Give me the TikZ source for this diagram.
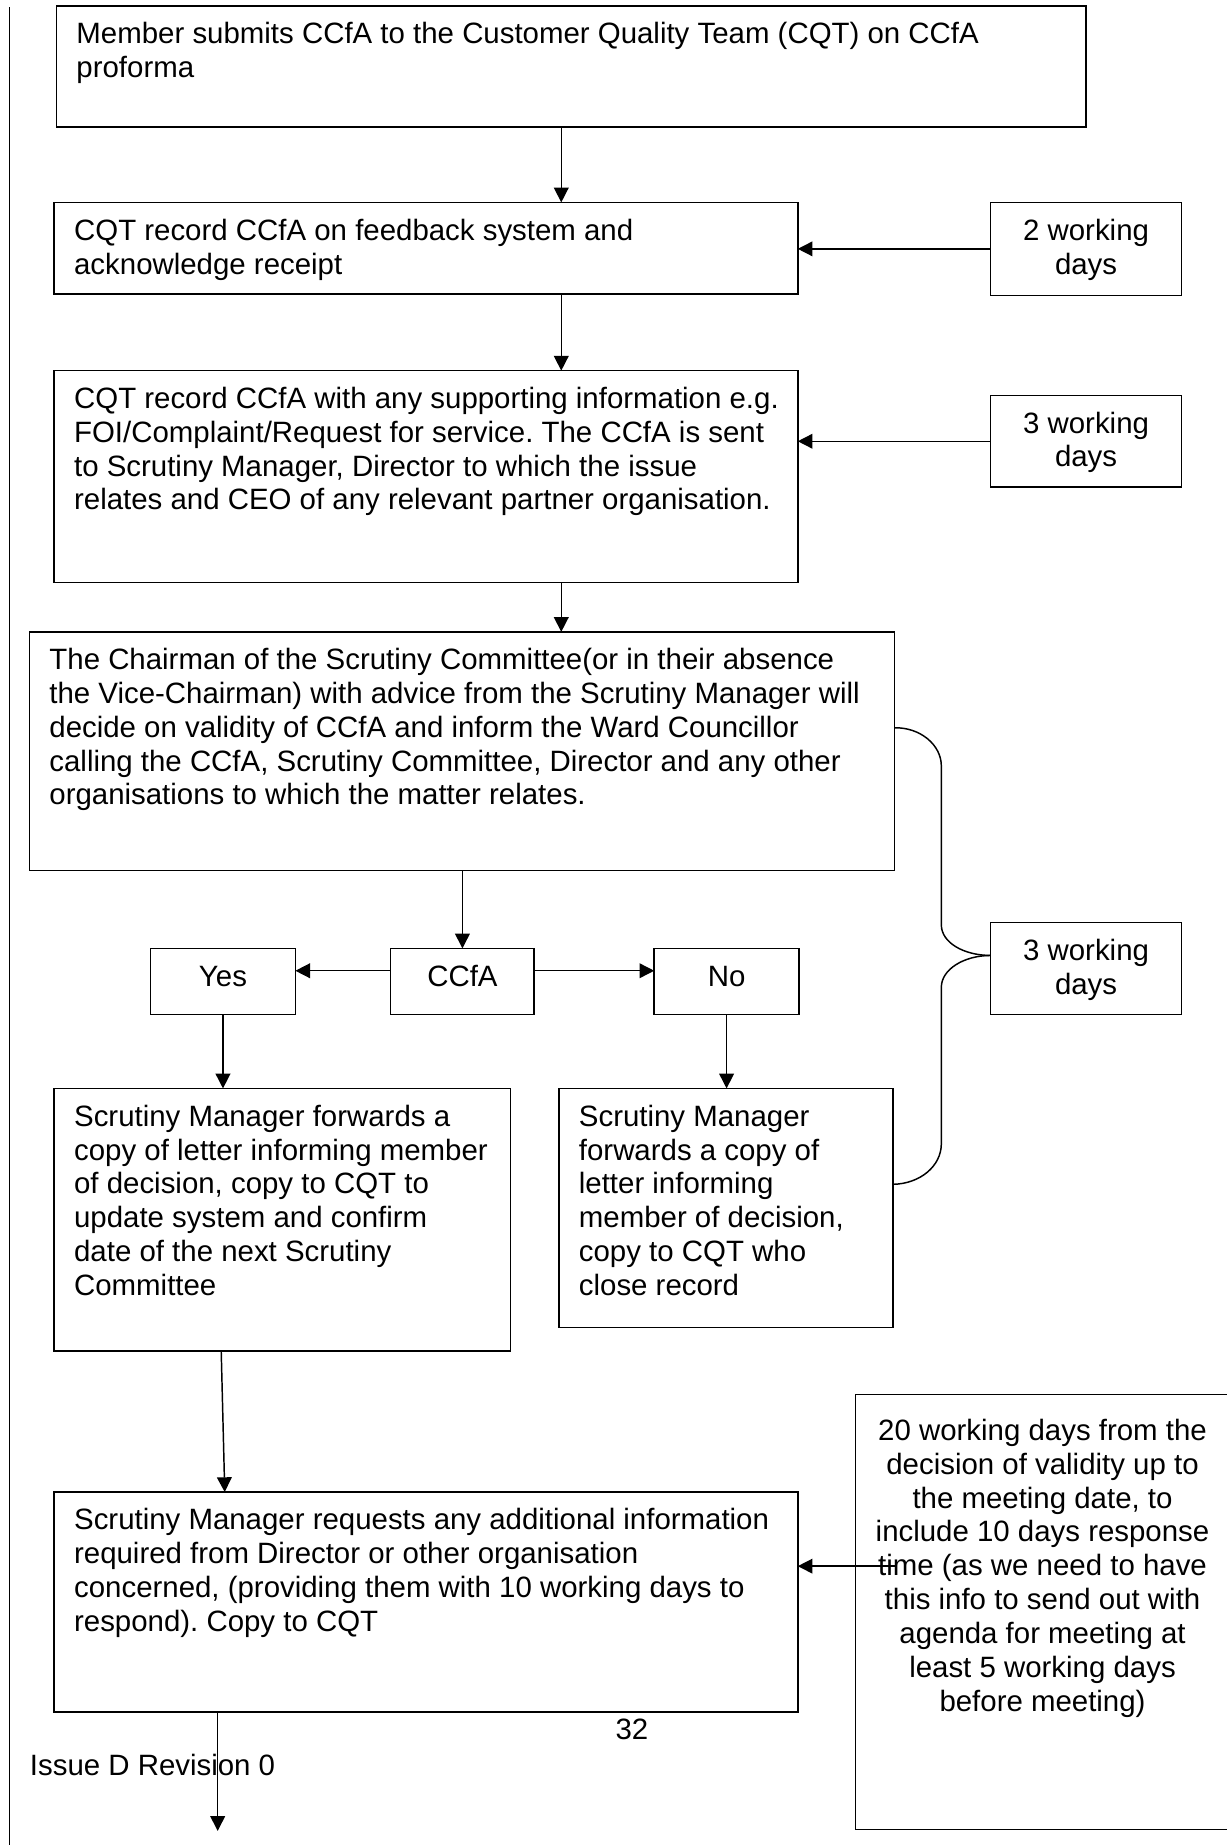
\documentclass[tikz,border=0pt]{standalone}
\usepackage{fontspec}
\setmainfont{Liberation Sans}
\usetikzlibrary{arrows.meta,calc}
\frenchspacing

\newlength{\px}
\setlength{\px}{0.48pt}
% box contents: width, height (in px), lines
\newcommand{\boxtxt}[3]{\parbox[c][#2\px][t]{#1\px}{\begin{tabular}[t]{@{}l@{}}#3\end{tabular}}}
\newcommand{\boxctr}[3]{\parbox[c][#2\px][t]{#1\px}{\centering\begin{tabular}[t]{@{}c@{}}#3\end{tabular}}}

\begin{document}
\begin{tikzpicture}[x=0.48pt,y=-0.48pt,font=\fontsize{12}{13.8}\selectfont,
  stepbox/.style={draw,line width=0.6pt,anchor=north west,outer sep=0pt,inner xsep=17\px,inner ysep=12\px},
  arr/.style={-{Triangle[length=6pt,width=6pt]},line width=0.6pt},
  link/.style={line width=0.6pt}]
	\useasboundingbox (0,0) rectangle (1042,1568);
	\draw[link] (8,6) -- (8,1568);

	\coordinate (col) at (477,0);

	\node[stepbox] (submit) at (48,5) {\boxtxt{841}{79}{Member submits CCfA to the Customer Quality Team (CQT) on CCfA\\proforma}};
	\node[stepbox] (record) at (46,172) {\boxtxt{598}{54}{CQT record CCfA on feedback system and\\acknowledge receipt}};
	\node[stepbox] (forward) at (46,315) {\boxtxt{598}{156}{CQT record CCfA with any supporting information e.g.\\FOI/Complaint/Request for service. The CCfA is sent\\to Scrutiny Manager, Director to which the issue\\relates and CEO of any relevant partner organisation.}};
	\node[stepbox] (decide) at (25,537) {\boxtxt{701}{179}{The Chairman of the Scrutiny Committee(or in their absence\\the Vice-Chairman) with advice from the Scrutiny Manager will\\decide on validity of CCfA and inform the Ward Councillor\\calling the CCfA, Scrutiny Committee, Director and any other\\organisations to which the matter relates.}};

	\node[stepbox] (yes) at (128,806) {\boxctr{89}{32}{Yes}};
	\node[stepbox] (ccfa) at (332,806) {\boxctr{88}{32}{CCfA}};
	\node[stepbox] (no) at (556,806) {\boxctr{89}{32}{No}};

	\node[stepbox] (yesact) at (46,925) {\boxtxt{354}{199}{Scrutiny Manager forwards a\\copy of letter informing member\\of decision, copy to CQT to\\update system and confirm\\date of the next Scrutiny\\Committee}};
	\node[stepbox] (noact) at (475,925) {\boxtxt{250}{179}{Scrutiny Manager\\forwards a copy of\\letter informing\\member of decision,\\copy to CQT who\\close record}};
	\node[stepbox] (request) at (46,1268) {\boxtxt{598}{163}{Scrutiny Manager requests any additional information\\required from Director or other organisation\\concerned, (providing them with 10 working days to\\respond). Copy to CQT}};

	\node[stepbox] (days2) at (842,172) {\boxctr{128}{55}{2 working\\days}};
	\node[stepbox] (days3a) at (842,336) {\boxctr{128}{54}{3 working\\days}};
	\node[stepbox] (days3b) at (842,784) {\boxctr{128}{54}{3 working\\days}};
	\node[stepbox,inner xsep=10\px,inner ysep=19\px] (days20) at (727,1185) {\boxctr{298}{332}{20 working days from the\\decision of validity up to\\the meeting date, to\\include 10 days response\\time (as we need to have\\this info to send out with\\agenda for meeting at\\least 5 working days\\before meeting)}};

	\node (pagenum) at (537,1470) {32};
	\node[anchor=west,inner sep=0pt] (issue) at (25,1500) {Issue D Revision 0};

	% main flow
	\draw[arr] (submit.south -| col) -- (record.north -| col);
	\draw[arr] (record.south -| col) -- (forward.north -| col);
	\draw[arr] (forward.south -| col) -- (decide.north -| col);
	\draw[arr] (decide.south -| ccfa) -- (ccfa.north);
	\draw[arr] ($(ccfa.west)+(0,-9)$) -- ($(yes.east)+(0,-9)$);
	\draw[arr] ($(ccfa.east)+(0,-9)$) -- ($(no.west)+(0,-9)$);
	\draw[arr] (yes.south) -- (yes.south |- yesact.north);
	\draw[arr] (no.south) -- (no.south |- noact.north);
	\draw[arr] ($(yesact.south west)+(142,0)$) -- ($(request.north west)+(145,0)$);
	\coordinate (next) at ($(request.south west)+(139,101)$);
	\draw[arr] ($(request.south west)+(139,0)$) -- (next);

	% time limits
	\draw[arr] (days2.west) -- (days2.west -| record.east);
	\draw[arr] (days3a.west) -- (days3a.west -| forward.east);
	\coordinate (tail20) at ($(days20.west)+(34,-39)$);
	\draw[arr] (tail20) -- (tail20 -| request.east);

	\coordinate (join) at ($(days3b.west)+(0,-11)$);
	\draw[link] ($(decide.east)+(0,-20)$) .. controls (782,618) and (800,633) .. (800,651) -- (800,786) .. controls (800,801) and (819,812) .. (join);
	\draw[link] (join) .. controls (819,812) and (800,824) .. (800,839) -- (800,972) .. controls (800,991) and (782,1006) .. ($(noact.east)+(0,-20)$);
\end{tikzpicture}
\end{document}
